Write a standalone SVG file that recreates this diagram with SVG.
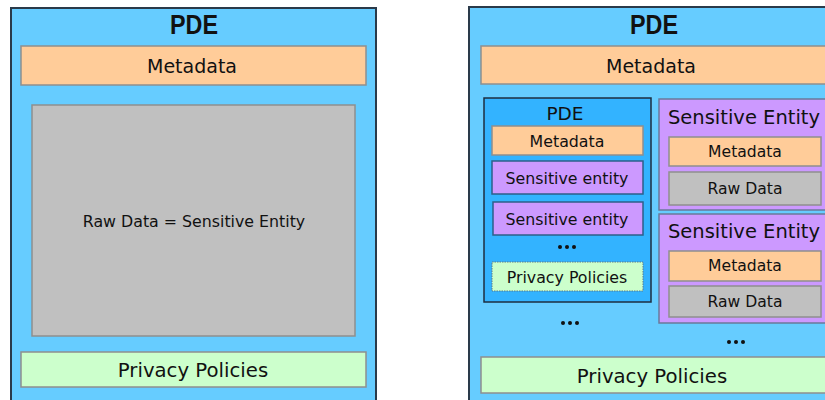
<svg xmlns="http://www.w3.org/2000/svg" width="825" height="400" viewBox="0 0 825 400">
<style>
text{font-family:"DejaVu Sans","Liberation Sans",sans-serif;fill:#111;text-anchor:middle;dominant-baseline:central}
.outer{fill:#66CCFF;stroke:#2a3a4a;stroke-width:2}
.meta{fill:#FFCC99;stroke:#8f8f8f;stroke-width:1.5}
.raw{fill:#C0C0C0;stroke:#8f8f8f;stroke-width:1.5}
.priv{fill:#CCFFCC;stroke:#8f8f8f;stroke-width:1.5}
.privd{fill:#CCFFCC;stroke:#5a7a8a;stroke-width:1;stroke-dasharray:1.5 1}
.inpde{fill:#33B3FF;stroke:#1e2e40;stroke-width:1.5}
.se{fill:#CC99FF;stroke:#6a7a9a;stroke-width:1.5}
.sei{fill:#CC99FF;stroke:#2e5f8a;stroke-width:1.5}
.title{font-family:"Liberation Sans",Arial,sans-serif;font-weight:bold;font-size:27px}
.dots{fill:#111}
</style>
<g id="left-pde">
<rect class="outer" x="11" y="8" width="365" height="400"/>
<text class="title" x="194" y="25" textLength="48" lengthAdjust="spacingAndGlyphs">PDE</text>
</g>
<g id="left-metadata">
<rect class="meta" x="21" y="46" width="345" height="39"/>
<text x="192" y="66" font-size="19">Metadata</text>
</g>
<g id="left-raw">
<rect class="raw" x="32" y="105" width="323" height="231"/>
<text x="194" y="221" font-size="15.8">Raw Data = Sensitive Entity</text>
</g>
<g id="left-privacy">
<rect class="priv" x="21" y="352" width="345" height="35"/>
<text x="193" y="370" font-size="19.7">Privacy Policies</text>
</g>
<g id="right-pde">
<rect class="outer" x="469" y="7" width="370" height="400"/>
<text class="title" x="654" y="25" textLength="48" lengthAdjust="spacingAndGlyphs">PDE</text>
</g>
<g id="right-metadata">
<rect class="meta" x="481" y="46" width="350" height="38"/>
<text x="651" y="66" font-size="19">Metadata</text>
</g>
<g id="inner-pde">
<rect class="inpde" x="484" y="98" width="167" height="204"/>
<text x="565" y="113" font-size="18.5">PDE</text>
<g id="inner-metadata">
<rect class="meta" x="492" y="126" width="151" height="29"/>
<text x="567" y="141" font-size="15.8">Metadata</text>
</g>
<g id="inner-se1">
<rect class="sei" x="492" y="161" width="151" height="33"/>
<text x="567" y="178" font-size="15.8">Sensitive entity</text>
</g>
<g id="inner-se2">
<rect class="sei" x="493" y="202" width="150" height="33"/>
<text x="567" y="219" font-size="15.8">Sensitive entity</text>
</g>
<g id="inner-dots" class="dots">
<circle cx="560" cy="247" r="2"/><circle cx="567" cy="247" r="2"/><circle cx="574" cy="247" r="2"/>
</g>
<g id="inner-privacy">
<rect class="privd" x="492" y="262" width="151" height="29"/>
<text x="567" y="277" font-size="15.8">Privacy Policies</text>
</g>
</g>
<g id="se1">
<rect class="se" x="659" y="99" width="175" height="111"/>
<text x="744" y="117" font-size="19.5">Sensitive Entity</text>
<rect class="meta" x="669" y="137" width="152" height="29"/>
<text x="745" y="152" font-size="15.6">Metadata</text>
<rect class="raw" x="669" y="172" width="152" height="33"/>
<text x="745" y="189" font-size="15.6">Raw Data</text>
</g>
<g id="se2">
<rect class="se" x="659" y="214" width="175" height="109"/>
<text x="744" y="231" font-size="19.5">Sensitive Entity</text>
<rect class="meta" x="669" y="251" width="152" height="30"/>
<text x="745" y="266" font-size="15.6">Metadata</text>
<rect class="raw" x="669" y="286" width="152" height="31"/>
<text x="745" y="302" font-size="15.6">Raw Data</text>
</g>
<g id="dots-left" class="dots">
<circle cx="563" cy="323" r="2"/><circle cx="570" cy="323" r="2"/><circle cx="577" cy="323" r="2"/>
</g>
<g id="dots-right" class="dots">
<circle cx="729" cy="342" r="2"/><circle cx="736" cy="342" r="2"/><circle cx="743" cy="342" r="2"/>
</g>
<g id="right-privacy">
<rect class="priv" x="481" y="357" width="350" height="36"/>
<text x="652" y="376" font-size="19.7">Privacy Policies</text>
</g>
<g id="connectors"/>
</svg>
